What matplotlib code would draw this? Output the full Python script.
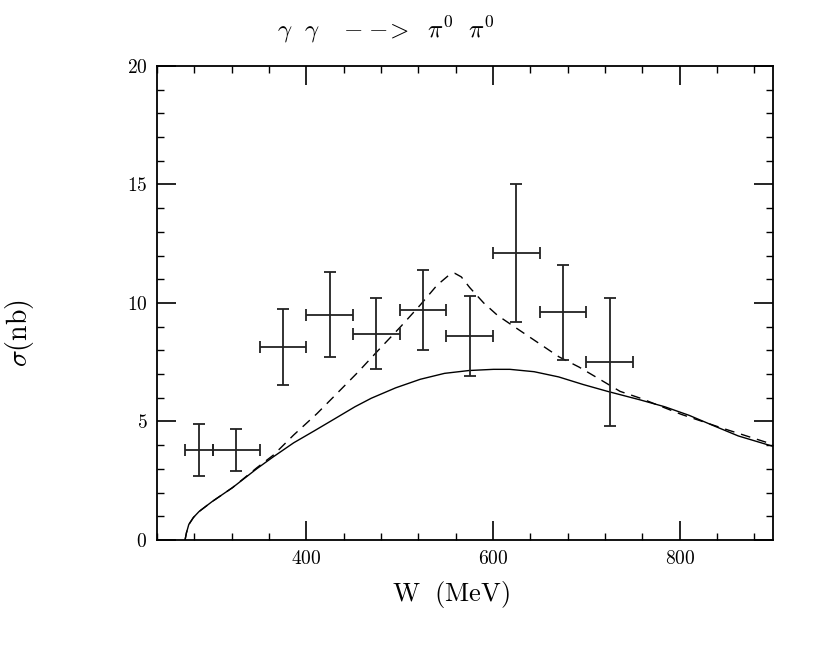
import matplotlib
matplotlib.use("Agg")
import matplotlib.pyplot as plt
from matplotlib.ticker import MultipleLocator, FixedLocator, FuncFormatter

# measured points: W bin centre, half bin width, sigma, error
w_centre = [285, 325, 375, 425, 475, 525, 575, 625, 675, 725]
w_half = [15, 25, 25, 25, 25, 25, 25, 25, 25, 25]
sigma = [3.8, 3.8, 8.15, 9.5, 8.7, 9.7, 8.6, 12.1, 9.6, 7.5]
sigma_err = [1.1, 0.9, 1.6, 1.8, 1.5, 1.7, 1.7, 2.9, 2.0, 2.7]

# solid curve
solid_w = [270, 271.5, 274, 279, 285, 299, 320.9, 347, 364.6, 386.4,
           408.3, 430.2, 452, 469.5, 495.7, 522, 548, 574.3, 600.5, 618,
           644, 670.3, 696.5, 722.7, 757.7, 784, 810, 836.4, 862.7, 900]
solid_s = [0.0, 0.3, 0.65, 0.95, 1.2, 1.62, 2.21, 3.01, 3.51, 4.10,
           4.60, 5.11, 5.62, 5.98, 6.42, 6.78, 7.03, 7.15, 7.20, 7.20,
           7.10, 6.88, 6.56, 6.27, 5.91, 5.62, 5.26, 4.82, 4.39, 3.95]

# dashed curve
dash_w = [270, 271.5, 274, 279, 285, 299, 320.9, 347, 364.6, 386.4,
          411.3, 433.2, 455.0, 479.1, 501.0, 521.9, 540.0, 552.0, 559.1,
          566.0, 575.0, 590.0, 605.0, 626.8, 648.7, 670.5, 692.4, 714.3,
          736.1, 758.0, 801.7, 845.4, 900]
dash_s = [0.0, 0.3, 0.65, 0.95, 1.2, 1.62, 2.21, 3.05, 3.58, 4.43,
          5.33, 6.20, 7.07, 8.09, 9.00, 9.91, 10.75, 11.15, 11.25,
          11.1, 10.65, 10.0, 9.47, 8.89, 8.31, 7.73, 7.29, 6.78,
          6.27, 5.98, 5.30, 4.72, 4.03]

x_major = [400, 600, 800]


def cross_section_plot() -> None:
    plt.rcParams["mathtext.fontset"] = "cm"
    plt.rcParams["font.family"] = "DejaVu Serif"

    fig = plt.figure(figsize=(8.3, 6.55), dpi=100)
    ax = fig.add_axes([0.1892, 0.1756, 0.7422, 0.7237])

    ax.plot(solid_w, solid_s, color="black", linewidth=1.0)
    ax.plot(dash_w, dash_s, color="black", linewidth=1.0,
            linestyle=(0, (7, 5)))
    ax.errorbar(w_centre, sigma, xerr=w_half, yerr=sigma_err,
                fmt="none", ecolor="#222222", elinewidth=1.3,
                capsize=4, capthick=1.3)

    ax.set_xlim(240, 900)
    ax.set_ylim(0, 20)

    ax.xaxis.set_major_locator(FixedLocator(x_major))
    ax.xaxis.set_minor_locator(MultipleLocator(40))
    ax.yaxis.set_major_locator(MultipleLocator(5))
    ax.yaxis.set_minor_locator(MultipleLocator(1))
    fmt = FuncFormatter(lambda v, p: f"${v:.0f}$")
    ax.xaxis.set_major_formatter(fmt)
    ax.yaxis.set_major_formatter(fmt)

    ax.tick_params(which="both", direction="in", top=True, right=True,
                   labelsize=14, pad=7)
    ax.tick_params(which="major", length=13.5, width=1.2)
    ax.tick_params(which="minor", length=5, width=1.0)
    for sp in ax.spines.values():
        sp.set_linewidth(1.3)

    # title spaced like the original
    fig.text(277 / 830, 1 - 30 / 655,
             r"$\gamma\ \ \gamma\quad -\!-\!\!>\ \ \pi^0\ \ \pi^0$",
             fontsize=18, ha="left", va="center")
    fig.text(451 / 830, 1 - 595 / 655, r"$\mathrm{W\ \ (MeV)}$",
             fontsize=19, ha="center", va="center")
    fig.text(19 / 830, 1 - 333 / 655, r"$\sigma\mathrm{(nb)}$",
             fontsize=20, ha="center", va="center", rotation=90)

    fig.savefig("out.png", dpi=100)
    plt.close(fig)


def main():
    cross_section_plot()


if __name__ == "__main__":
    main()
